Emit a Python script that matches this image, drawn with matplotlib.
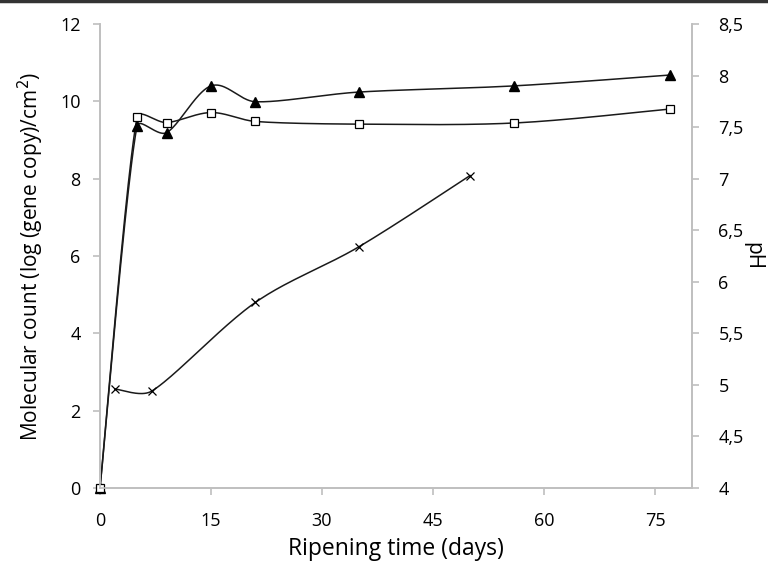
import matplotlib
matplotlib.use("Agg")
import matplotlib.pyplot as plt
from matplotlib.lines import Line2D
import numpy as np

plt.rcParams['font.family'] = ['Open Sans', 'DejaVu Sans']

# molecular counts (left axis)
days_tri = [0, 5, 9, 15, 21, 35, 56, 77]
count_tri = [0, 9.36, 9.19, 10.4, 9.99, 10.24, 10.4, 10.68]
days_sq = [0, 5, 9, 15, 21, 35, 56, 77]
count_sq = [0, 9.59, 9.45, 9.71, 9.48, 9.41, 9.44, 9.80]
# pH (right axis)
days_ph = [2, 7, 21, 35, 50]
ph = [4.96, 4.94, 5.80, 6.34, 7.03]

x_ticks = [0, 15, 30, 45, 60, 75]
y_ticks = [0, 2, 4, 6, 8, 10, 12]
ph_ticks = [4, 4.5, 5, 5.5, 6, 6.5, 7, 7.5, 8, 8.5]
ph_labels = [f"{t:g}".replace('.', ',') for t in ph_ticks]

GREY = '#bfbfbf'


def ctrl(tan, seg):
    # Catmull-Rom offset, clamped to a third of the segment length
    off = tan / 6
    L = np.linalg.norm(off)
    if L > seg / 3:
        off = off * (seg / 3) / L
    return off


def smooth(ax, x, y, n=40):
    # Excel-like smoothed line drawn in pixel space
    pts = ax.transData.transform(np.column_stack([x, y]))
    m = len(pts)
    out = [pts[0]]
    t = np.linspace(0, 1, n)[1:, None]
    for i in range(m - 1):
        p0, p3 = pts[i], pts[i + 1]
        seg = np.linalg.norm(p3 - p0)
        tan0 = pts[i + 1] - pts[i - 1] if i > 0 else (p3 - p0)
        tan1 = pts[i + 2] - pts[i] if i + 2 < m else (p3 - p0)
        p1 = p0 + ctrl(tan0, seg)
        p2 = p3 - ctrl(tan1, seg)
        b = (1 - t) ** 3 * p0 + 3 * (1 - t) ** 2 * t * p1 + 3 * (1 - t) * t ** 2 * p2 + t ** 3 * p3
        out.extend(b)
    out = ax.transData.inverted().transform(np.array(out))
    return out[:, 0], out[:, 1]


fig = plt.figure(figsize=(7.68, 5.64), dpi=100)
ax = fig.add_axes([100 / 768, 76 / 564, 592 / 768, 464 / 564])
ax2 = ax.twinx()
ax.set_xlim(0, 80)
ax.set_ylim(0, 12)
ax2.set_ylim(4, 8.5)

sx, sy = smooth(ax, days_tri, count_tri)
ax.plot(sx, sy, color='#1a1a1a', lw=1.1, zorder=2, clip_on=False)
ax.plot(days_tri, count_tri, ls='none', marker='^', ms=6.5, color='black', zorder=3, clip_on=False)
sx, sy = smooth(ax, days_sq, count_sq)
ax.plot(sx, sy, color='#1a1a1a', lw=1.1, zorder=2, clip_on=False)
ax.plot(days_sq, count_sq, ls='none', marker='s', ms=6, mfc='white', mec='black', mew=0.9,
        zorder=4, clip_on=False)

sx, sy = smooth(ax2, days_ph, ph)
ax2.plot(sx, sy, color='#1a1a1a', lw=1.1)
ax2.plot(days_ph, ph, ls='none', marker='x', ms=6, color='black', mew=0.9)

ax.set_xticks(x_ticks)
ax.set_yticks(y_ticks)
ax2.set_yticks(ph_ticks)
ax2.set_yticklabels(ph_labels)

for a in (ax, ax2):
    a.spines['top'].set_visible(False)
    for s in ('left', 'right', 'bottom'):
        a.spines[s].set_color(GREY)
        a.spines[s].set_linewidth(1.2)
    a.tick_params(colors=GREY, labelcolor='black', length=5, width=1.2, labelsize=13)
ax.tick_params(axis='x', pad=12)
ax.tick_params(axis='y', pad=9)
ax2.tick_params(axis='y', pad=14)

ax.set_xlabel('Ripening time (days)', fontsize=16.5, labelpad=5)
ax.set_ylabel('Molecular count (log (gene copy)/cm$^2$)', fontsize=15, labelpad=10)
ax2.set_ylabel('pH', fontsize=15, rotation=270, labelpad=14)

fig.add_artist(Line2D([0, 1], [0.998, 0.998], color='#333333', lw=2.5, transform=fig.transFigure))

fig.savefig('out.png', dpi=100)
